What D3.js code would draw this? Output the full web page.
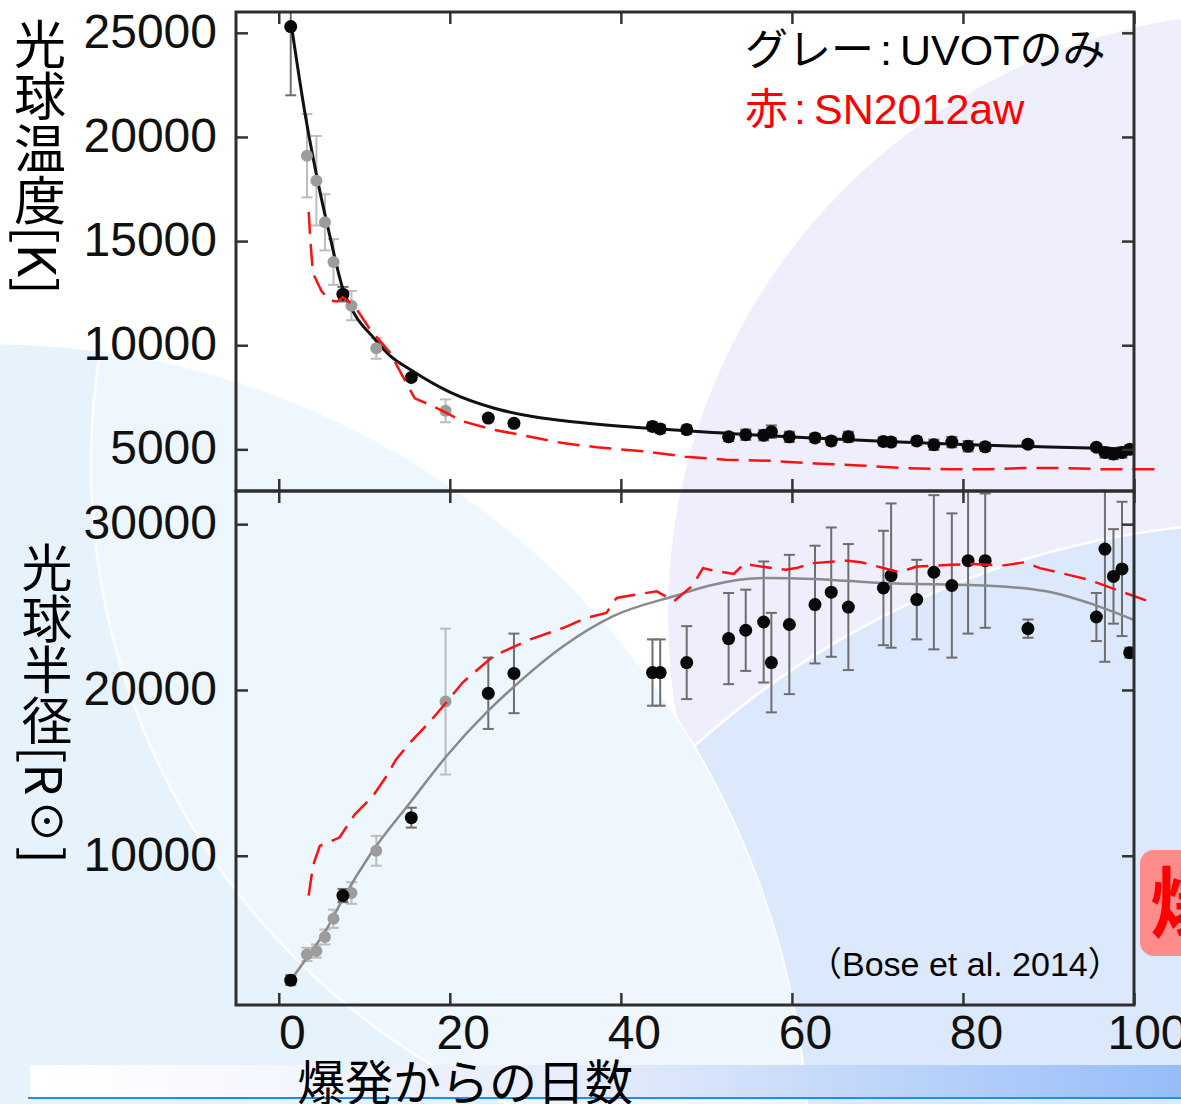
<!DOCTYPE html>
<html>
<head>
<meta charset="utf-8">
<script src="https://cdn.jsdelivr.net/npm/d3@7"></script>
<style>
  html, body { margin: 0; padding: 0; background: #fff; overflow: hidden; }
  svg { display: block; }
</style>
</head>
<body>
<svg id="chart" width="1181" height="1104"></svg>
<script>
// ---- axis ticks ----
const dayTicks = [0, 20, 40, 60, 80, 100];
const tempTicks = [5000, 10000, 15000, 20000, 25000];
const radiusTicks = [10000, 20000, 30000];

// ---- epochs with full photometric coverage (black markers) ----
const fullDays = [1.4, 7.5, 15.5, 24.5, 27.5, 43.7, 44.6, 47.7, 52.6, 54.6, 56.7, 57.6, 59.7, 62.7, 64.6, 66.6,
                  70.7, 71.6, 74.6, 76.6, 78.7, 80.6, 82.6, 87.6, 95.6, 96.6, 97.6, 98.6, 99.5];
const fullTemp = [25300, 12450, 8450, 6500, 6250, 6100, 5980, 5950, 5600, 5700, 5680, 5850, 5600, 5550, 5400, 5600,
                  5380, 5350, 5400, 5220, 5350, 5150, 5120, 5250, 5100, 4850, 4780, 4850, 5000];
const fullTempErr = [3300, 350, 150, 150, 150, 200, 200, 200, 200, 250, 250, 300, 250, 200, 200, 250,
                     200, 200, 200, 250, 250, 250, 200, 150, 150, 250, 250, 250, 200];
const fullRadius = [2500, 7600, 12300, 19800, 21000, 21050, 21050, 21650, 23100, 23600, 24100, 21650, 23950, 25150, 25900, 25000,
                    26150, 26900, 25450, 27100, 26300, 27800, 27800, 23700, 24400, 28500, 26850, 27300, 22250];
const fullRadiusErr = [300, 400, 600, 2150, 2400, 2000, 2000, 2200, 2750, 2450, 3650, 3000, 4200, 3550, 3900, 3800,
                       3450, 4350, 2400, 4650, 4350, 4400, 4050, 550, 1450, 6800, 2850, 4050, 300];

// ---- UVOT-only epochs (grey markers) ----
const uvotDays = [3.3, 4.4, 5.4, 6.4, 8.5, 11.4, 19.5];
const uvotTemp = [19100, 17900, 15900, 14000, 11900, 9850, 6850];
const uvotTempErr = [2000, 2150, 1350, 1100, 700, 500, 550];
const uvotRadius = [4050, 4250, 5100, 6200, 7750, 10300, 19300];
const uvotRadiusErr = [400, 400, 450, 550, 650, 900, 4400];

// ---- fitted curves ----
const tempFitDays = [1.5, 3, 4.5, 6, 7.5, 9, 11, 13, 15.5, 20, 25, 30, 35, 40, 45, 52, 60, 70, 80, 90, 100];
const tempFit = [25300, 21300, 18000, 15200, 12700, 11400, 10400, 9500, 8800, 7750, 7000, 6550, 6300, 6110, 5960, 5780,
                 5590, 5400, 5230, 5110, 5020];
const radiusFitDays = [1.4, 3.5, 5.5, 7.5, 10.6, 15.5, 19.6, 24.5, 27.4, 33.3, 39.1, 46.5, 50.4, 56.7, 62.5, 70.5,
                       82.6, 90.7, 94.7, 100];
const radiusFit = [2500, 4000, 5500, 7400, 10000, 13300, 16000, 18750, 20150, 22650, 24450, 25700, 26300, 26750,
                   26700, 26450, 26300, 25850, 25250, 24220];

// ---- SN2012aw comparison (red dashed) ----
const awTempDays = [3.5, 3.7, 4.0, 5.0, 5.9, 6.8, 7.5, 8.3, 9.0, 10.6, 13, 14.5, 15.9, 17.6, 19.6, 21.5, 25, 28.2, 33.2,
                    37.2, 42.7, 47.5, 52.3, 57.5, 62.7, 67.9, 73.1, 78.3, 83.1, 87, 92.2, 96.1, 102.5];
const awTemp = [16400, 15000, 13450, 12600, 12150, 12100, 12300, 12050, 11800, 10800, 9650, 8500, 7450, 7150, 6750, 6350,
                5950, 5700, 5300, 5100, 4900, 4650, 4500, 4450, 4320, 4230, 4100, 4050, 4050, 4100, 4100, 4050, 4050];
const awRadiusDays = [3.5, 4.0, 4.8, 7.1, 8.9, 11, 12.6, 13.7, 15.3, 17.6, 19.6, 21.5, 25.1, 29.4, 33.3, 36, 38.3, 39.5,
                      41.1, 44.2, 46.2, 48.4, 49.6, 50.4, 53.2, 54.4, 55.7, 57.7, 59.3, 60.5, 62.5, 66.5, 68.1, 72.6,
                      74.6, 78.6, 81, 84.6, 87.2, 89, 93.1, 94.7, 97.9, 101.7];
const awRadius = [7600, 9400, 10600, 11100, 12500, 13600, 14800, 15800, 16800, 18050, 19250, 20450, 22050, 23050, 23750,
                  24350, 24650, 25550, 25700, 25950, 25350, 26300, 27350, 27250, 27000, 27600, 27500, 27350, 27250,
                  27350, 27650, 27800, 27700, 27100, 27450, 27550, 27600, 27500, 27700, 27350, 26850, 26650, 26050, 25350];

// ---- labels ----
const tempTitle = "光球温度[K]";
const radiusTitle = "光球半径[R☉]";
const dayTitle = "爆発からの日数";
const legendGrey = ["グレー", ":", "UVOTのみ"];
const legendRed = ["赤", ":", "SN2012aw"];
const sourceNote = "（Bose et al. 2014）";

const W = 1181, H = 1104;
const svg = d3.select("#chart");
const defs = svg.append("defs");

// ---------- slide backdrop ----------
svg.append("rect").attr("width", W).attr("height", H).attr("fill", "#ffffff");
svg.append("circle").attr("cx", 1271).attr("cy", 615).attr("r", 603).attr("fill", "#eeeefc");
svg.append("circle").attr("cx", 1277).attr("cy", 1391).attr("r", 869)
  .attr("fill", "#dce8fb").attr("stroke", "#ffffff").attr("stroke-width", 2.5);
defs.append("clipPath").attr("id", "bigDisc")
  .append("circle").attr("cx", -14).attr("cy", 1166).attr("r", 823);
svg.append("circle").attr("cx", -14).attr("cy", 1166).attr("r", 823)
  .attr("fill", "#e3f2fd").attr("fill-opacity", 0.9).attr("stroke", "#ffffff").attr("stroke-width", 2.5);
svg.append("g").attr("clip-path", "url(#bigDisc)")
  .append("circle").attr("cx", 791).attr("cy", 464).attr("r", 700)
  .attr("fill", "#f1f8fe").attr("fill-opacity", 0.8).attr("stroke", "#ffffff").attr("stroke-width", 2.5);

// footer band
const grad = defs.append("linearGradient").attr("id", "band").attr("x1", 0).attr("x2", 1).attr("y1", 0).attr("y2", 0);
grad.append("stop").attr("offset", 0).attr("stop-color", "#ffffff");
grad.append("stop").attr("offset", 0.5).attr("stop-color", "#e4ebfb");
grad.append("stop").attr("offset", 1).attr("stop-color", "#95bdf8");
svg.append("rect").attr("x", 30).attr("y", 1065).attr("width", W - 30).attr("height", 32).attr("fill", "url(#band)");
svg.append("line").attr("x1", 28).attr("x2", W).attr("y1", 1098).attr("y2", 1098)
  .attr("stroke", "#1e8ff0").attr("stroke-width", 2);

// ---------- scales ----------
const plotL = 236, plotR = 1134, plotT = 12, plotM = 491, plotB = 1005;
const x = d3.scaleLinear().domain([-5, 100]).range([plotL, plotR]);
const yT = d3.scaleLinear().domain([3000, 26000]).range([plotM, plotT]);
const yR = d3.scaleLinear().domain([1000, 32000]).range([plotB, plotM]);

const tickFont = "'Liberation Sans', Arial, Helvetica, sans-serif";
const jpFont = "'Noto Sans CJK JP', 'Noto Sans', sans-serif";

defs.append("clipPath").attr("id", "clipT").append("rect")
  .attr("x", plotL).attr("y", plotT).attr("width", plotR - plotL).attr("height", plotM - plotT);
defs.append("clipPath").attr("id", "clipR").append("rect")
  .attr("x", plotL).attr("y", plotM).attr("width", plotR - plotL).attr("height", plotB - plotM);

function styleAxis(g) {
  g.select(".domain").remove();
  g.attr("font-family", tickFont).attr("font-size", 48).attr("color", "#222");
  g.selectAll(".tick line").attr("stroke-width", 2.5).attr("stroke", "#333");
  g.selectAll(".tick text").attr("fill", "#111");
}

function panelAxes(y, ticks, y0, y1, showDayLabels) {
  const g = svg.append("g");
  g.append("g").attr("transform", `translate(${plotL},0)`)
    .call(d3.axisLeft(y).tickValues(ticks).tickSize(-12).tickPadding(19).tickFormat(d3.format("d")))
    .call(styleAxis)
    .call(a => a.selectAll(".tick text").attr("dy", "0.3em"));
  g.append("g").attr("transform", `translate(${plotR},0)`)
    .call(d3.axisRight(y).tickValues(ticks).tickSize(-12).tickFormat(""))
    .call(styleAxis);
  g.append("g").attr("transform", `translate(0,${y0})`)
    .call(d3.axisTop(x).tickValues(dayTicks).tickSize(-12).tickFormat(""))
    .call(styleAxis);
  const b = g.append("g").attr("transform", `translate(0,${y1})`)
    .call(d3.axisBottom(x).tickValues(dayTicks).tickSize(-12).tickPadding(10)
      .tickFormat(showDayLabels ? d3.format("d") : ""))
    .call(styleAxis);
  b.selectAll(".tick text").attr("x", 13);
  g.append("rect").attr("x", plotL).attr("y", y0).attr("width", plotR - plotL).attr("height", y1 - y0)
    .attr("fill", "none").attr("stroke", "#2e2e2e").attr("stroke-width", 3);
}

function errorBars(g, days, vals, errs, y, color) {
  const rows = days.map((d, i) => ({ d, v: vals[i], e: errs[i] }));
  const cap = 5.5;
  const eg = g.append("g").attr("stroke", color).attr("stroke-width", 2).attr("fill", "none");
  eg.selectAll("line.v").data(rows).join("line").attr("class", "v")
    .attr("x1", r => x(r.d)).attr("x2", r => x(r.d))
    .attr("y1", r => y(r.v + r.e)).attr("y2", r => y(r.v - r.e));
  eg.selectAll("line.hi").data(rows).join("line").attr("class", "hi")
    .attr("x1", r => x(r.d) - cap).attr("x2", r => x(r.d) + cap)
    .attr("y1", r => y(r.v + r.e)).attr("y2", r => y(r.v + r.e));
  eg.selectAll("line.lo").data(rows).join("line").attr("class", "lo")
    .attr("x1", r => x(r.d) - cap).attr("x2", r => x(r.d) + cap)
    .attr("y1", r => y(r.v - r.e)).attr("y2", r => y(r.v - r.e));
}

function dots(g, days, vals, y, color, r) {
  g.append("g").selectAll("circle").data(days.map((d, i) => [d, vals[i]])).join("circle")
    .attr("cx", p => x(p[0])).attr("cy", p => y(p[1])).attr("r", r).attr("fill", color);
}

function panel(y, clipId, uv, uvErr, full, fullErr, fitDays, fit, awDays, aw, fitColor, fitWidth) {
  const clipped = svg.append("g").attr("clip-path", `url(#${clipId})`);
  errorBars(clipped, uvotDays, uv, uvErr, y, "#bdbdbd");
  errorBars(clipped, fullDays, full, fullErr, y, "#6e6e6e");
  clipped.append("path")
    .datum(fitDays.map((d, i) => [d, fit[i]]))
    .attr("d", d3.line().x(p => x(p[0])).y(p => y(p[1])).curve(d3.curveMonotoneX))
    .attr("fill", "none").attr("stroke", fitColor).attr("stroke-width", fitWidth);
  dots(clipped, uvotDays, uv, y, "#9c9c9c", 6);
  dots(clipped, fullDays, full, y, "#080808", 6.5);
  svg.append("path")
    .datum(awDays.map((d, i) => [d, aw[i]]))
    .attr("d", d3.line().x(p => x(p[0])).y(p => y(p[1])))
    .attr("fill", "none").attr("stroke", "#ff1010").attr("stroke-width", 2.5)
    .attr("stroke-dasharray", "22,10");
}

panel(yT, "clipT", uvotTemp, uvotTempErr, fullTemp, fullTempErr, tempFitDays, tempFit, awTempDays, awTemp, "#111", 3);
panel(yR, "clipR", uvotRadius, uvotRadiusErr, fullRadius, fullRadiusErr, radiusFitDays, radiusFit, awRadiusDays, awRadius, "#8a8a8a", 2.5);

panelAxes(yT, tempTicks, plotT, plotM, false);
panelAxes(yR, radiusTicks, plotM, plotB, true);

// ---------- titles ----------
svg.append("text").attr("x", 40).attr("y", 18)
  .style("writing-mode", "vertical-rl").style("text-orientation", "mixed")
  .attr("font-family", jpFont).attr("font-size", 52).attr("fill", "#000").text(tempTitle);
svg.append("text").attr("x", 47).attr("y", 542)
  .style("writing-mode", "vertical-rl").style("text-orientation", "mixed")
  .attr("font-family", jpFont).attr("font-size", 51).attr("fill", "#000").text(radiusTitle);
svg.append("text").attr("x", 297).attr("y", 1100)
  .attr("font-family", jpFont).attr("font-size", 48).attr("fill", "#000").text(dayTitle);

// legend notes
function legendLine(parts, yBase, color) {
  const t = svg.append("text").attr("x", 745).attr("y", yBase)
    .attr("font-family", tickFont + ", 'Noto Sans CJK JP'").attr("font-size", 43).attr("fill", color);
  t.append("tspan").text(parts[0]);
  t.append("tspan").attr("dx", 6).text(parts[1]);
  t.append("tspan").attr("dx", 8).text(parts[2]);
}
legendLine(legendGrey, 65, "#000");
legendLine(legendRed, 124, "#ff0000");

svg.append("text").attr("x", 808).attr("y", 976)
  .attr("font-family", tickFont + ", 'Noto Sans CJK JP'").attr("font-size", 34).attr("fill", "#000")
  .text(sourceNote);

// side badge
svg.append("rect").attr("x", 1140).attr("y", 850).attr("width", 80).attr("height", 106).attr("rx", 14)
  .attr("fill", "#ff8b8b");
svg.append("text").attr("x", 1150).attr("y", 932)
  .attr("font-family", jpFont).attr("font-weight", 700).attr("font-size", 78).attr("fill", "#ff0000")
  .text("爆発");
</script>
</body>
</html>
